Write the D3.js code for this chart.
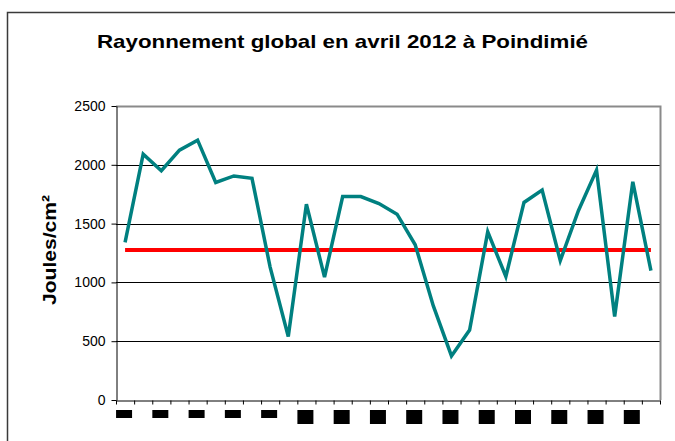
<!DOCTYPE html>
<html>
<head>
<meta charset="utf-8">
<script src="https://cdn.jsdelivr.net/npm/d3@7"></script>
<style>
  body { margin: 0; background: #fff; }
  text { font-family: "Liberation Sans", Arial, sans-serif; }
</style>
</head>
<body>
<div id="chart"></div>
<script>
// Data (avril 2012, Poindimié)
let days = d3.range(1, 31);
let rayonnement = [1340, 2090, 1950, 2125, 2210, 1850, 1905, 1885, 1130, 540,
                   1665, 1045, 1730, 1730, 1670, 1580, 1320, 800, 375, 595,
                   1430, 1050, 1680, 1785, 1185, 1610, 1955, 710, 1855, 1100];
let normale = [1275, 1275, 1275, 1275, 1275, 1275, 1275, 1275, 1275, 1275,
               1275, 1275, 1275, 1275, 1275, 1275, 1275, 1275, 1275, 1275,
               1275, 1275, 1275, 1275, 1275, 1275, 1275, 1275, 1275, 1275];
let yTicks = [0, 500, 1000, 1500, 2000, 2500];
let labelDays = [1, 3, 5, 7, 9, 11, 13, 15, 17, 19, 21, 23, 25, 27, 29];
let title = "Rayonnement global en avril 2012 à Poindimié";
let yTitle = "Joules/cm²";

// Svg defs
let w = 675,
    h = 441;
let plot = { left: 116, right: 660, top: 106, bottom: 400 };

let svg = d3.select("#chart")
  .append("svg")
  .attr("width", w)
  .attr("height", h)
  .attr("viewBox", [0, 0, w, h]);

// Outer chart frame (cut off at right and bottom)
svg.append("rect")
  .attr("x", 7.5).attr("y", 12.5)
  .attr("width", 720).attr("height", 480)
  .attr("fill", "#fff")
  .attr("stroke", "#3a3a3a")
  .attr("stroke-width", 1.5);

// Scales
let x = d3.scaleBand()
  .domain(days)
  .range([plot.left, plot.right]);
let xEdge = d3.scaleLinear()
  .domain([0, days.length])
  .range([plot.left, plot.right]);
let y = d3.scaleLinear()
  .domain([0, 2500])
  .range([plot.bottom, plot.top]);
let cx = (d) => x(d) + x.bandwidth() / 2;

// Gridlines
svg.append("g")
  .selectAll("line")
  .data(yTicks.filter((d) => d > 0 && d < 2500))
  .join("line")
  .attr("x1", plot.left).attr("x2", plot.right)
  .attr("y1", (d) => Math.round(y(d)) + 0.5)
  .attr("y2", (d) => Math.round(y(d)) + 0.5)
  .attr("stroke", "#000")
  .attr("stroke-width", 1);

// Plot area border (top & right)
svg.append("path")
  .attr("d", `M${plot.left},${plot.top + 0.5} H${plot.right + 0.5} V${plot.bottom}`)
  .attr("fill", "none")
  .attr("stroke", "#8a8a8a")
  .attr("stroke-width", 2);

// Y axis
let yAxis = svg.append("g")
  .attr("transform", `translate(${plot.left + 0.5},0)`)
  .call(d3.axisLeft(y).tickValues(yTicks).tickFormat(d3.format("d"))
    .tickSize(5).tickPadding(6).tickSizeOuter(0));
yAxis.select(".domain").attr("stroke", "#000");
yAxis.selectAll("text")
  .attr("font-size", 14)
  .attr("font-family", "Liberation Sans, Arial, sans-serif")
  .attr("fill", "#000");

// X axis (ticks at day boundaries)
let xAxis = svg.append("g")
  .attr("transform", `translate(0,${plot.bottom + 0.5})`)
  .call(d3.axisBottom(xEdge).ticks(days.length).tickSize(4).tickFormat("").tickSizeOuter(0));
xAxis.select(".domain").attr("stroke", "#000");
xAxis.selectAll(".tick line").attr("stroke", "#000");

// X labels (rendered as black blocks in the source)
svg.append("g")
  .selectAll("rect")
  .data(labelDays)
  .join("rect")
  .attr("x", (d) => cx(d) - 9)
  .attr("y", 410)
  .attr("width", 16)
  .attr("height", (d) => d < 10 ? 8 : 14)
  .attr("fill", "#000");

// Normale (red)
svg.append("path")
  .datum(normale)
  .attr("d", d3.line().x((d, i) => cx(days[i])).y((d) => y(d)))
  .attr("fill", "none")
  .attr("stroke", "#ff0000")
  .attr("stroke-width", 4);

// Rayonnement (teal)
svg.append("path")
  .datum(rayonnement)
  .attr("d", d3.line().x((d, i) => cx(days[i])).y((d) => y(d)))
  .attr("fill", "none")
  .attr("stroke", "#008080")
  .attr("stroke-width", 3.5)
  .attr("stroke-linejoin", "miter");

// Title (Excel stretched it a bit wider)
svg.append("text")
  .attr("x", 97)
  .attr("y", 48)
  .attr("font-size", 19)
  .attr("font-weight", "bold")
  .attr("fill", "#000")
  .attr("textLength", 491)
  .attr("lengthAdjust", "spacingAndGlyphs")
  .text(title);

// Y title
svg.append("text")
  .attr("transform", `translate(56,305) rotate(-90)`)
  .attr("font-size", 19)
  .attr("font-weight", "bold")
  .attr("fill", "#000")
  .attr("textLength", 110)
  .attr("lengthAdjust", "spacingAndGlyphs")
  .text(yTitle);
</script>
</body>
</html>
